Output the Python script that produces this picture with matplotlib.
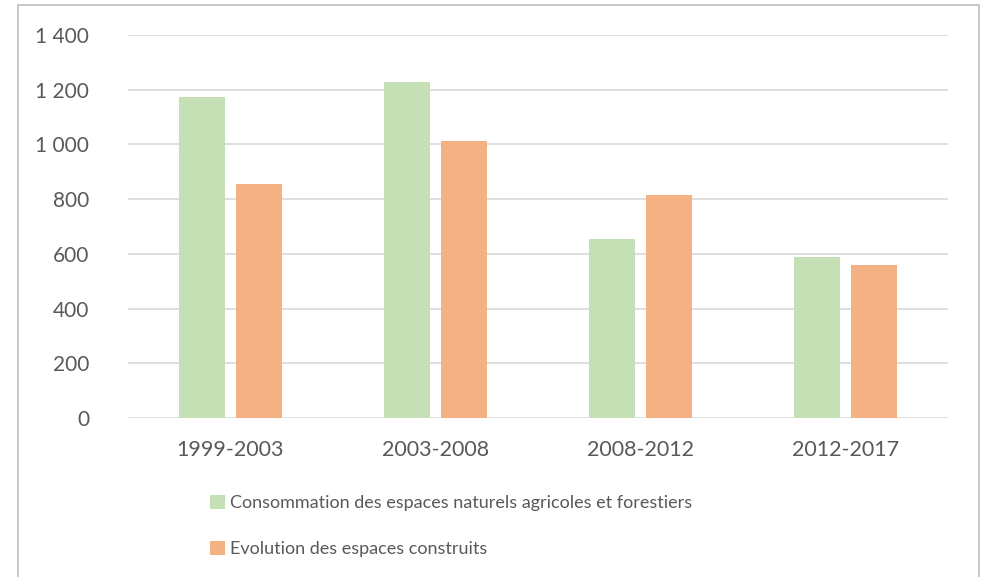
import numpy as np
import matplotlib.pyplot as plt
from matplotlib.patches import Rectangle
from matplotlib.ticker import FuncFormatter

periods = ['1999-2003', '2003-2008', '2008-2012', '2012-2017']
conso_enaf = [1175, 1230, 653, 587]
evol_construits = [854, 1011, 814, 558]
labels = ['Consommation des espaces naturels agricoles et forestiers',
          'Evolution des espaces construits']

plt.rcParams['font.family'] = ['Lato', 'DejaVu Sans']
text_color = '#595959'


def thousands(v, pos):
    return f'{int(v):,}'.replace(',', ' ')


def main():
    fig = plt.figure(figsize=(9.87, 5.77), dpi=100)
    ax = fig.add_axes([128 / 987, 1 - 418 / 577, 820 / 987, 383 / 577])

    x = np.arange(len(periods))
    w = 0.224
    off = 0.141
    ax.bar(x - off, conso_enaf, w, color='#C5E0B4', label=labels[0], zorder=2)
    ax.bar(x + off, evol_construits, w, color='#F4B183', label=labels[1], zorder=2)

    ax.set_xlim(-0.5, len(periods) - 0.5)
    ax.set_ylim(0, 1400)
    ax.set_yticks(np.arange(0, 1401, 200))
    ax.yaxis.set_major_formatter(FuncFormatter(thousands))
    ax.set_xticks(x)
    ax.set_xticklabels(periods)

    ax.grid(axis='y', color='#D9D9D9', lw=1.2, zorder=0)
    for s in ax.spines.values():
        s.set_visible(False)
    ax.tick_params(axis='y', length=0, pad=28, labelsize=15, labelcolor=text_color)
    ax.tick_params(axis='x', length=0, pad=16, labelsize=15.5, labelcolor=text_color)

    fig.legend(loc='upper left', bbox_to_anchor=(203 / 987, 1 - 488 / 577),
               frameon=False, fontsize=13, handlelength=0.8, handleheight=0.8,
               handletextpad=0.3, labelspacing=1.65, labelcolor=text_color,
               borderaxespad=0)

    fig.patches.append(Rectangle((18 / 987, -0.01), 961 / 987, 1 - 5 / 577 + 0.01,
                                 transform=fig.transFigure, fill=False,
                                 edgecolor='#BFBFBF', lw=1.2))

    fig.savefig('out.png', dpi=100)


if __name__ == '__main__':
    main()
